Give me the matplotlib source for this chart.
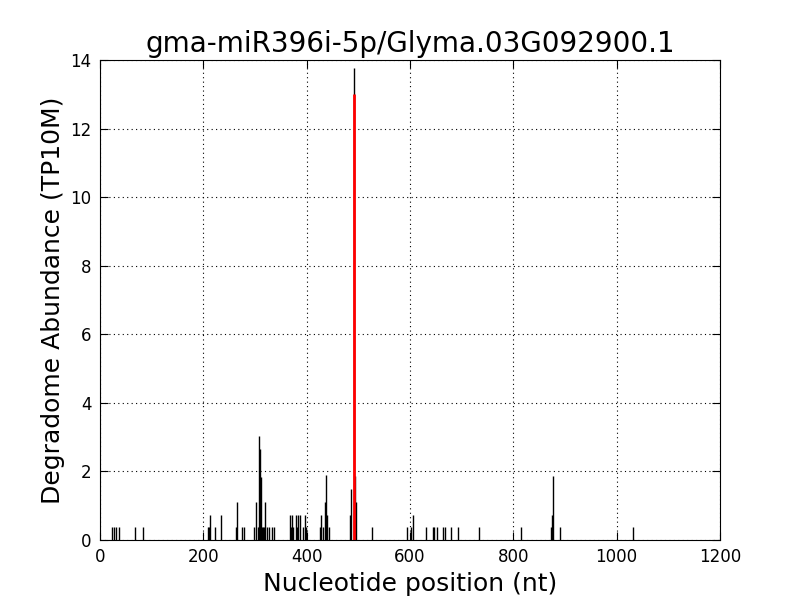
import matplotlib
matplotlib.use("Agg")
import matplotlib.pyplot as plt

# degradome tags: position (nt) and abundance (TP10M)
positions = [24, 27, 30, 37, 67, 84,
             209, 211, 213, 223, 235,
             263, 265, 274, 278,
             298, 302, 305, 307, 308, 310, 311, 313, 315,
             318, 320, 324, 328, 332, 336,
             368, 369, 371, 373, 380, 382, 384, 388, 393, 397, 399,
             426, 428, 432, 435, 437, 439, 443,
             484, 486, 491, 493, 495,
             526, 595, 601, 605, 630, 645, 647, 653, 663, 667, 679, 692, 734,
             815, 873, 875, 877, 890, 1032]
abundance = [0.37, 0.37, 0.37, 0.37, 0.37, 0.37,
             0.37, 0.37, 0.74, 0.37, 0.74,
             0.37, 1.11, 0.37, 0.37,
             0.37, 1.11, 0.37, 0.37, 3.02, 2.64, 1.85, 0.37, 0.37,
             0.37, 1.11, 0.37, 0.37, 0.37, 0.37,
             0.74, 0.37, 0.74, 0.37, 0.74, 0.37, 0.74, 0.74, 0.37, 0.74, 0.37,
             0.37, 0.74, 0.37, 1.11, 1.9, 0.74, 0.37,
             0.74, 1.5, 13.77, 1.88, 1.11,
             0.37, 0.37, 0.37, 0.74, 0.37, 0.37, 0.37, 0.37, 0.37, 0.37, 0.37, 0.37, 0.37,
             0.37, 0.37, 0.74, 1.88, 0.37, 0.37]

# predicted cleavage site
site_pos = [491]
site_abundance = [13.0]

x_ticks = [0, 200, 400, 600, 800, 1000, 1200]
y_ticks = [0, 2, 4, 6, 8, 10, 12, 14]

fig = plt.figure(figsize=(8, 6), dpi=100)
ax = fig.add_axes([0.125, 0.1, 0.775, 0.8])

ax.vlines(positions, 0, abundance, color='black', linewidth=1)
ax.vlines(site_pos, 0, site_abundance, color='red', linewidth=2)

ax.set_xlim(0, 1200)
ax.set_ylim(0, 14)
ax.set_xticks(x_ticks)
ax.set_yticks(y_ticks)
ax.tick_params(direction='in', top=True, right=True, length=6, width=0.8, labelsize=12, pad=6)
ax.grid(True, linestyle=(0, (1, 3)), color='black', linewidth=0.8)

ax.set_title('gma-miR396i-5p/Glyma.03G092900.1', fontsize=20)
ax.set_xlabel('Nucleotide position (nt)', fontsize=18)
ax.set_ylabel('Degradome Abundance (TP10M)', fontsize=18)

fig.savefig('out.png', dpi=100)
